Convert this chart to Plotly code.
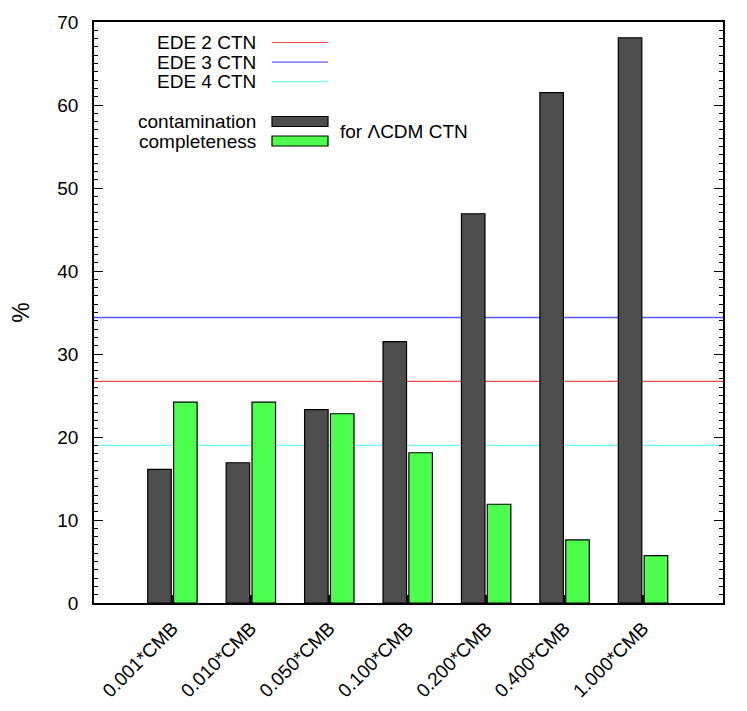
import plotly.graph_objects as go

# data
categories = ['0.001*CMB', '0.010*CMB', '0.050*CMB', '0.100*CMB',
              '0.200*CMB', '0.400*CMB', '1.000*CMB']
contamination = [16.1, 16.9, 23.3, 31.5, 46.9, 61.5, 68.1]
completeness = [24.2, 24.2, 22.8, 18.1, 11.9, 7.6, 5.7]

ede_names = ['EDE 2 CTN', 'EDE 3 CTN', 'EDE 4 CTN']
ede_ctn = [26.7, 34.4, 19.0]
ede_colors = ['#ff4848', '#5858ff', '#66ffff']

bar_names = ['contamination', 'completeness']
bar_colors = ['#4d4d4d', '#4dff4d']

FONT = 'Liberation Sans, Arial, sans-serif'
FS = 19
# page body adds an 8px offset, so the figure is 8px smaller
W, H = 739, 703
L, R, T, B = 86, 24, 14, 108

xpos = list(range(len(categories)))

fig = go.Figure()
fig.add_trace(go.Bar(x=xpos, y=contamination, width=0.3, offset=-0.315,
                     marker=dict(color=bar_colors[0], line=dict(color='black', width=1.2)),
                     name=bar_names[0], showlegend=False))
fig.add_trace(go.Bar(x=xpos, y=completeness, width=0.3, offset=0.015,
                     marker=dict(color=bar_colors[1], line=dict(color='black', width=1.2)),
                     name=bar_names[1], showlegend=False))


# legend drawn by hand, gnuplot style (text left of the sample)
def px(x):
    return (x - 8 - L) / (W - L - R)


def py(y):
    return (H - B - (y - 8)) / (H - T - B)


shapes = []
annos = []
for i, (name, col) in enumerate(zip(ede_names, ede_colors)):
    yy = 42.5 + i * 19.6
    annos.append(dict(x=px(258), y=py(yy), xref='paper', yref='paper', text=name,
                      showarrow=False, xanchor='right', yanchor='middle',
                      font=dict(size=FS, color='black', family=FONT)))
    shapes.append(dict(type='line', xref='paper', yref='paper', x0=px(272), x1=px(328),
                       y0=py(yy), y1=py(yy), line=dict(color=col, width=1.2)))

for i, (name, col) in enumerate(zip(bar_names, bar_colors)):
    yy = 121.5 + i * 19.5
    annos.append(dict(x=px(258), y=py(yy), xref='paper', yref='paper', text=name,
                      showarrow=False, xanchor='right', yanchor='middle',
                      font=dict(size=FS, color='black', family=FONT)))
    shapes.append(dict(type='rect', xref='paper', yref='paper', x0=px(272), x1=px(328),
                       y0=py(yy - 5), y1=py(yy + 5), fillcolor=col,
                       line=dict(color='black', width=1.2)))

annos.append(dict(x=px(338), y=py(131), xref='paper', yref='paper', text='for \u039bCDM CTN',
                  showarrow=False, xanchor='left', yanchor='middle',
                  font=dict(size=FS, color='black', family=FONT)))

# horizontal EDE lines, drawn below the bars
for val, col in zip(ede_ctn, ede_colors):
    shapes.append(dict(type='line', xref='x domain', yref='y', x0=0, x1=1, y0=val, y1=val,
                       layer='below', line=dict(color=col, width=1.3)))

fig.update_layout(
    width=W, height=H,
    margin=dict(l=L, r=R, t=T, b=B),
    plot_bgcolor='white', paper_bgcolor='white',
    font=dict(family=FONT, size=FS, color='black'),
    barmode='overlay',
    shapes=shapes,
    annotations=annos,
    xaxis=dict(range=[-1.0, 7.02], tickmode='array', tickvals=xpos, ticktext=categories,
               tickangle=-45, ticks='inside', ticklen=8, tickwidth=2, tickcolor='black',
               showline=True, linecolor='black', linewidth=1.5, mirror=True,
               showgrid=False, zeroline=False, automargin=False, ticklabelstandoff=5),
    yaxis=dict(range=[0, 70], dtick=10, ticks='inside', ticklen=9, tickwidth=1.2,
               tickcolor='black', showline=True, linecolor='black', linewidth=1.5,
               mirror='ticks', showgrid=False, zeroline=False, ticklabelstandoff=10,
               automargin=False,
               minor=dict(dtick=1, ticks='inside', ticklen=4, tickcolor='black', tickwidth=1),
               title=dict(text='%', standoff=26)),
)

fig.write_html('out.html')
